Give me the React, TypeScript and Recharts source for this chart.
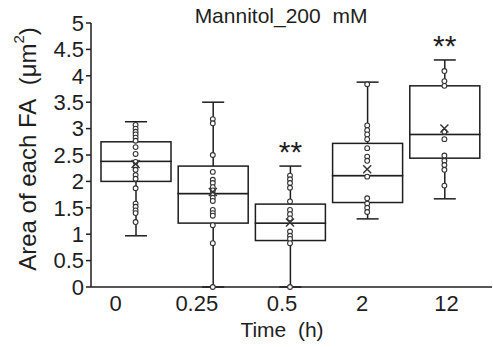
import { Bar, ComposedChart, LabelList, Scatter, XAxis, YAxis } from "recharts";

const times = ["0", "0.25", "0.5", "2", "12"];
const mins = [0.97, 0, 0, 1.29, 1.67];
const q1s = [2.0, 1.21, 0.88, 1.6, 2.44];
const medians = [2.38, 1.77, 1.21, 2.11, 2.89];
const q3s = [2.75, 2.29, 1.57, 2.72, 3.81];
const maxes = [3.13, 3.5, 2.29, 3.88, 4.3];
const means = [2.33, 1.8, 1.22, 2.23, 3.0];
const signif = ["", "", "**", "", "**"];
const points = [
  [3.07, 3.0, 2.94, 2.89, 2.83, 2.77, 2.65, 2.52, 2.37, 2.28, 2.22, 2.12, 2.05, 1.87, 1.58, 1.52, 1.45, 1.4, 1.23],
  [3.18, 3.1, 2.5, 2.18, 2.03, 1.97, 1.89, 1.83, 1.76, 1.69, 1.63, 1.46, 1.4, 1.35, 1.17, 0.83, 0],
  [2.11, 2.04, 1.97, 1.88, 1.62, 1.46, 1.38, 1.3, 1.05, 0.97, 0.91, 0.83, 0],
  [3.84, 3.06, 2.97, 2.89, 2.8, 2.63, 2.47, 2.39, 2.09, 1.68, 1.58, 1.5, 1.42],
  [4.09, 3.9, 3.81, 2.94, 2.8, 2.49, 2.39, 2.31, 2.22, 1.92],
];
const yTicks = [0, 0.5, 1, 1.5, 2, 2.5, 3, 3.5, 4, 4.5, 5];

const boxData = times.map((t, i) => ({
  time: t,
  base: mins[i],
  lowWhisk: q1s[i] - mins[i],
  lowBox: medians[i] - q1s[i],
  highBox: q3s[i] - medians[i],
  highWhisk: maxes[i] - q3s[i],
  sig: signif[i],
}));
const pointData = points.flatMap((vals, i) => vals.map((v) => ({ idx: i, value: v })));
const meanData = means.map((m, i) => ({ idx: i, value: m }));

const FONT = "'Liberation Sans', Arial, sans-serif";
const INK = "#1e1e1e";
const CAP = 11;

const Empty = () => <g />;

const LowWhisker = (p: any) => {
  const cx = p.x + p.width / 2;
  const bottom = p.y + p.height;
  return (
    <g stroke={INK} strokeWidth={1.5}>
      <line x1={cx} x2={cx} y1={p.y} y2={bottom} />
      <line x1={cx - CAP} x2={cx + CAP} y1={bottom} y2={bottom} />
    </g>
  );
};

const HighWhisker = (p: any) => {
  const cx = p.x + p.width / 2;
  return (
    <g stroke={INK} strokeWidth={1.5}>
      <line x1={cx} x2={cx} y1={p.y} y2={p.y + p.height} />
      <line x1={cx - CAP} x2={cx + CAP} y1={p.y} y2={p.y} />
    </g>
  );
};

const BoxHalf = (p: any) => (
  <rect x={p.x} y={p.y} width={p.width} height={p.height} fill="#fff" stroke={INK} strokeWidth={1.5} />
);

const Dot = (p: any) => (
  <circle cx={p.cx} cy={p.cy} r={2.4} fill="#fff" stroke="#333" strokeWidth={1.1} />
);

const MeanMark = (p: any) => (
  <g stroke="#333" strokeWidth={1.4}>
    <line x1={p.cx - 4} x2={p.cx + 4} y1={p.cy - 4} y2={p.cy + 4} />
    <line x1={p.cx - 4} x2={p.cx + 4} y1={p.cy + 4} y2={p.cy - 4} />
  </g>
);

const Stars = (p: any) =>
  p.value ? (
    <text x={p.x + p.width / 2} y={p.y - 4} textAnchor="middle" fontSize={30} fontFamily={FONT} fill={INK}>
      {p.value}
    </text>
  ) : null;

const labelShift = [-20, -16, -8, -5, 2];
const TimeTick = (p: any) => (
  <text
    x={p.x + labelShift[p.index]}
    y={p.y}
    dy="0.72em"
    textAnchor="middle"
    fontSize={22}
    fontFamily={FONT}
    fill={INK}
  >
    {p.payload.value}
  </text>
);

export default function App() {
  return (
    <div style={{ position: "absolute", left: 0, top: 0, width: 493, height: 347, background: "#fff" }}>
      <div
        style={{
          position: "absolute",
          left: 0,
          width: 562,
          top: 4,
          textAlign: "center",
          fontFamily: FONT,
          fontSize: 21,
          color: INK,
        }}
      >
        Mannitol_200&nbsp; mM
      </div>
      <ComposedChart width={493} height={347} data={boxData} margin={{ top: 23, right: 1, bottom: 30, left: 0 }}>
        <XAxis
          xAxisId="cat"
          dataKey="time"
          type="category"
          padding={{ left: 6, right: 9 }}
          tickLine={false}
          tickSize={6}
          axisLine={{ stroke: INK, strokeWidth: 1.5 }}
          tick={<TimeTick />}
          interval={0}
          label={{
            content: () => (
              <text x={282} y={337} textAnchor="middle" fontSize={21} fontFamily={FONT} fill={INK}>
                Time{"\u00a0 "}(h)
              </text>
            ),
          }}
        />
        <XAxis
          xAxisId="num"
          dataKey="idx"
          type="number"
          domain={[-0.5, 4.5]}
          allowDataOverflow
          padding={{ left: 6, right: 9 }}
          hide
        />
        <YAxis
          domain={[0, 5]}
          ticks={yTicks}
          interval={0}
          width={91}
          tickSize={5}
          tickLine={{ stroke: INK, strokeWidth: 1.5 }}
          axisLine={{ stroke: INK, strokeWidth: 1.5 }}
          tick={{ fontSize: 22, fontFamily: FONT, fill: INK }}
          label={{
            content: () => (
              <text
                transform="translate(27,149) rotate(-90)"
                textAnchor="middle"
                dominantBaseline="central"
                fontSize={24}
                fontFamily={FONT}
                fill={INK}
              >
                Area of each FA{"\u00a0 "}(μm<tspan fontSize={15} dy={-9}>2</tspan>
                <tspan dy={9}>)</tspan>
              </text>
            ),
          }}
        />
        <Bar xAxisId="cat" dataKey="base" stackId="b" barSize={70} shape={<Empty />} isAnimationActive={false} />
        <Bar xAxisId="cat" dataKey="lowWhisk" stackId="b" barSize={70} shape={<LowWhisker />} isAnimationActive={false} />
        <Bar xAxisId="cat" dataKey="lowBox" stackId="b" barSize={70} shape={<BoxHalf />} isAnimationActive={false} />
        <Bar xAxisId="cat" dataKey="highBox" stackId="b" barSize={70} shape={<BoxHalf />} isAnimationActive={false} />
        <Bar xAxisId="cat" dataKey="highWhisk" stackId="b" barSize={70} shape={<HighWhisker />} isAnimationActive={false}>
          <LabelList dataKey="sig" content={<Stars />} />
        </Bar>
        <Scatter xAxisId="num" data={pointData} dataKey="value" shape={<Dot />} isAnimationActive={false} />
        <Scatter xAxisId="num" data={meanData} dataKey="value" shape={<MeanMark />} isAnimationActive={false} />
      </ComposedChart>
    </div>
  );
}
